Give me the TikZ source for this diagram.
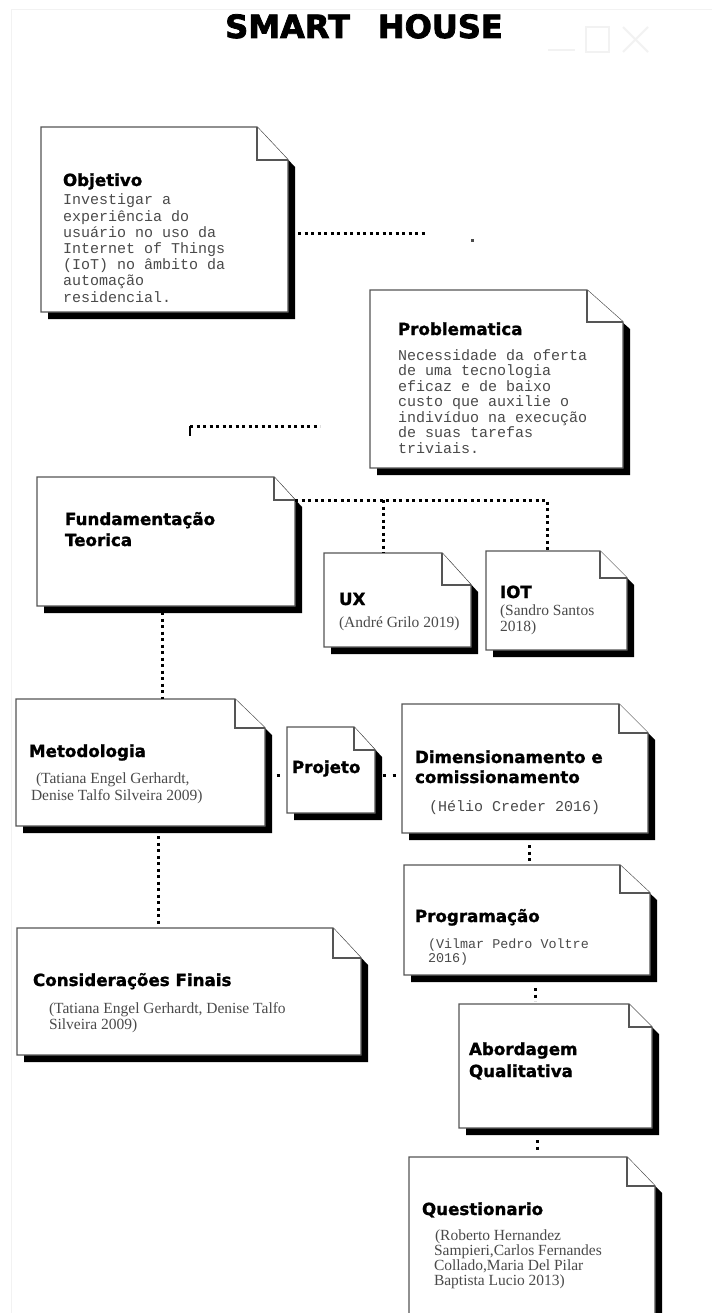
\documentclass[tikz,border=0pt]{standalone}
\usepackage{fontspec}
\usetikzlibrary{calc,fit}
\newfontfamily\hfont{DejaVu Sans}[BoldFeatures={FakeBold=1.3}]
\newfontfamily\tfont{DejaVu Sans}[BoldFeatures={FakeBold=2.5}]
\newfontfamily\mfont{Liberation Mono}
\newfontfamily\cfont{Liberation Serif}
\definecolor{txtgray}{HTML}{4A4A4A}
\definecolor{linegray}{HTML}{555555}
\definecolor{faint}{HTML}{F2F2F2}
\newcommand\vlines[1]{\begin{tabular}[t]{@{}l@{}}#1\end{tabular}}
\newcommand\notebox[7]{%
  \path (#2,#3) coordinate (#1-a) (#4,#5) coordinate (#1-b);
  \node[fit=(#1-a)(#1-b), inner sep=0pt, outer sep=0pt] (#1) {};
  \fill[black] ($(#1.north west)+(7,7)$) -- ($(#1.north east)+({7-#6},7)$) -- ($(#1.north east)+(7,{7+#7})$) -- ($(#1.south east)+(7,7)$) -- ($(#1.south west)+(7,7)$) -- cycle;
  \filldraw[boxline] (#1.north west) -- ($(#1.north east)+(-#6,0)$) -- ($(#1.north east)+(0,#7)$) -- (#1.south east) -- (#1.south west) -- cycle;
  \draw[boxline] ($(#1.north east)+(-#6,0)$) -- ($(#1.north east)+(-#6,#7)$) -- ($(#1.north east)+(0,#7)$);
}
\tikzset{
  boxline/.style={draw=linegray, line width=1.3pt, fill=white, line join=miter},
  hd/.style={font=\hfont\bfseries\fontsize{16.7}{21}\selectfont, anchor=base west, inner sep=0pt, outer sep=0pt},
  mono/.style={font=\mfont\fontsize{15}{16}\selectfont, text=txtgray, anchor=base west, inner sep=0pt, outer sep=0pt},
  cite/.style={font=\cfont\fontsize{15.5}{17}\selectfont, text=txtgray, anchor=base west, inner sep=0pt, outer sep=0pt},
  dotline/.style={line width=3pt, dash pattern=on 3pt off 3.5pt, black},
}
\begin{document}
\begin{tikzpicture}[x=1pt,y=-1pt]
\useasboundingbox (0,0) rectangle (712,1313);
\clip (0,0) rectangle (712,1313);
\fill[white] (0,0) rectangle (712,1313);
% faint frame and window controls
\draw[faint, line width=1pt] (11,1313) -- (11,10) -- (712,10);
\draw[faint, line width=2pt] (548,50) -- (575,50);
\draw[faint, line width=2pt] (586,27) rectangle (609,52);
\draw[faint, line width=2pt] (623,27) -- (648,52) (623,52) -- (648,27);
% title
\node[font=\tfont\bfseries\fontsize{32}{32}\selectfont, anchor=base, inner sep=0pt] (title) at (364,38) {SMART\hspace{28pt}HOUSE};

% boxes
\notebox{obj}{41}{127}{288}{312}{31}{33}
\notebox{prob}{370}{290}{623}{468}{36}{32}
\notebox{fund}{37}{477}{295}{606}{21}{23}
\notebox{ux}{324}{553}{471}{647}{29}{32}
\notebox{iot}{486}{551}{627}{650}{27}{27}
\notebox{meto}{16}{699}{265}{826}{30}{29}
\notebox{proj}{287}{727}{375}{813}{21}{23}
\notebox{dim}{402}{704}{648}{833}{29}{29}
\notebox{cons}{17}{928}{361}{1055}{28}{30}
\notebox{prog}{404}{865}{650}{975}{30}{28}
\notebox{abor}{459}{1004}{652}{1128}{23}{23}
\notebox{ques}{409}{1157}{655}{1340}{28}{29}

% texts
\node[hd] (objt) at (63,186) {Objetivo};
\node[mono, font=\mfont\fontsize{15}{16.2}\selectfont] (objb) at (63,205) {\vlines{Investigar a\\experiência do\\usuário no uso da\\Internet of Things\\(IoT) no âmbito da\\automação\\residencial.}};
\node[hd] (probt) at (398,335) {Problematica};
\node[mono, font=\mfont\fontsize{15}{15.5}\selectfont] (probb) at (398,360) {\vlines{Necessidade da oferta\\de uma tecnologia\\eficaz e de baixo\\custo que auxilie o\\indivíduo na execução\\de suas tarefas\\triviais.}};
\node[hd] (fundt) at (65,525) {\vlines{Fundamentação\\Teorica}};
\node[hd] (uxt) at (339,605) {UX};
\node[cite] (uxb) at (339,627) {(André Grilo 2019)};
\node[hd] (iott) at (500,598) {IOT};
\node[cite, font=\cfont\fontsize{15.5}{16}\selectfont] (iotb) at (500,615) {\vlines{(Sandro Santos\\2018)}};
\node[hd] (metot) at (29,757) {Metodologia};
\node[cite] (metob) at (31,783) {\vlines{\hspace{5pt}(Tatiana Engel Gerhardt,\\Denise Talfo Silveira 2009)}};
\node[hd] (projt) at (292,773) {Projeto};
\node[hd, font=\hfont\bfseries\fontsize{16.7}{20}\selectfont] (dimt) at (415,763) {\vlines{Dimensionamento e\\comissionamento}};
\node[mono] (dimb) at (429,811) {(Hélio Creder 2016)};
\node[hd] (const) at (33,986) {Considerações Finais};
\node[cite, font=\cfont\fontsize{15.5}{16}\selectfont] (consb) at (49,1013) {\vlines{(Tatiana Engel Gerhardt, Denise Talfo\\Silveira 2009)}};
\node[hd] (progt) at (415,922) {Programação};
\node[mono, font=\mfont\fontsize{13.4}{14.5}\selectfont] (progb) at (428,948) {\vlines{(Vilmar Pedro Voltre\\2016)}};
\node[hd, font=\hfont\bfseries\fontsize{16.7}{22}\selectfont] (abort) at (469,1055) {\vlines{Abordagem\\Qualitativa}};
\node[hd] (quest) at (422,1215) {Questionario};
\node[cite, font=\cfont\fontsize{15.5}{15}\selectfont] (quesb) at (434,1240) {\vlines{\hspace{1pt}(Roberto Hernandez\\Sampieri,Carlos Fernandes\\Collado,Maria Del Pilar\\Baptista Lucio 2013)}};

% connectors
\coordinate (c1) at (428,234);
\draw[dotline] ($(obj.east |- c1)+(10,0)$) -- (c1);
\coordinate (c1dot) at (472,241);
\fill[black!70] ($(c1dot)+(-1.5,-1.5)$) rectangle ($(c1dot)+(1.5,1.5)$);
\coordinate (c2a) at (190,426);
\coordinate (c2b) at (320,426);
\draw[dotline] (c2a) -- (c2b);
\draw[line width=1.5pt] (c2a) -- ($(c2a)+(0,10)$);
\coordinate (c3) at (547,500);
\coordinate (c3u) at (383,500);
\draw[dotline] ($(fund.north east)+(0,23)$) -- (c3) -- (c3 |- iot.north);
\draw[dotline] (c3u) -- (c3u |- ux.north);
\coordinate (c4) at (162,0);
\draw[dotline] ($(fund.south -| c4)+(0,6)$) -- (meto.north -| c4);
\coordinate (c5) at (0,775);
\draw[dotline] ($(meto.east |- c5)+(11.5,0)$) -- ($(proj.west |- c5)+(-7.5,0)$);
\draw[dotline, dash pattern=on 3pt off 6.5pt] ($(proj.east |- c5)+(8,0)$) -- ($(dim.west |- c5)+(-6,0)$);
\coordinate (c7) at (158,0);
\draw[dotline] ($(meto.south -| c7)+(0,10)$) -- ($(cons.north -| c7)+(0,-2)$);
\coordinate (c8) at (529,0);
\draw[dotline] ($(dim.south -| c8)+(0,12)$) -- ($(prog.north -| c8)+(0,-3)$);
\coordinate (c9) at (535,0);
\draw[dotline] ($(prog.south -| c9)+(0,13)$) -- ($(abor.north -| c9)+(0,-3)$);
\coordinate (c10) at (537,0);
\draw[dotline] ($(abor.south -| c10)+(0,12)$) -- ($(ques.north -| c10)+(0,-5)$);
\end{tikzpicture}
\end{document}
